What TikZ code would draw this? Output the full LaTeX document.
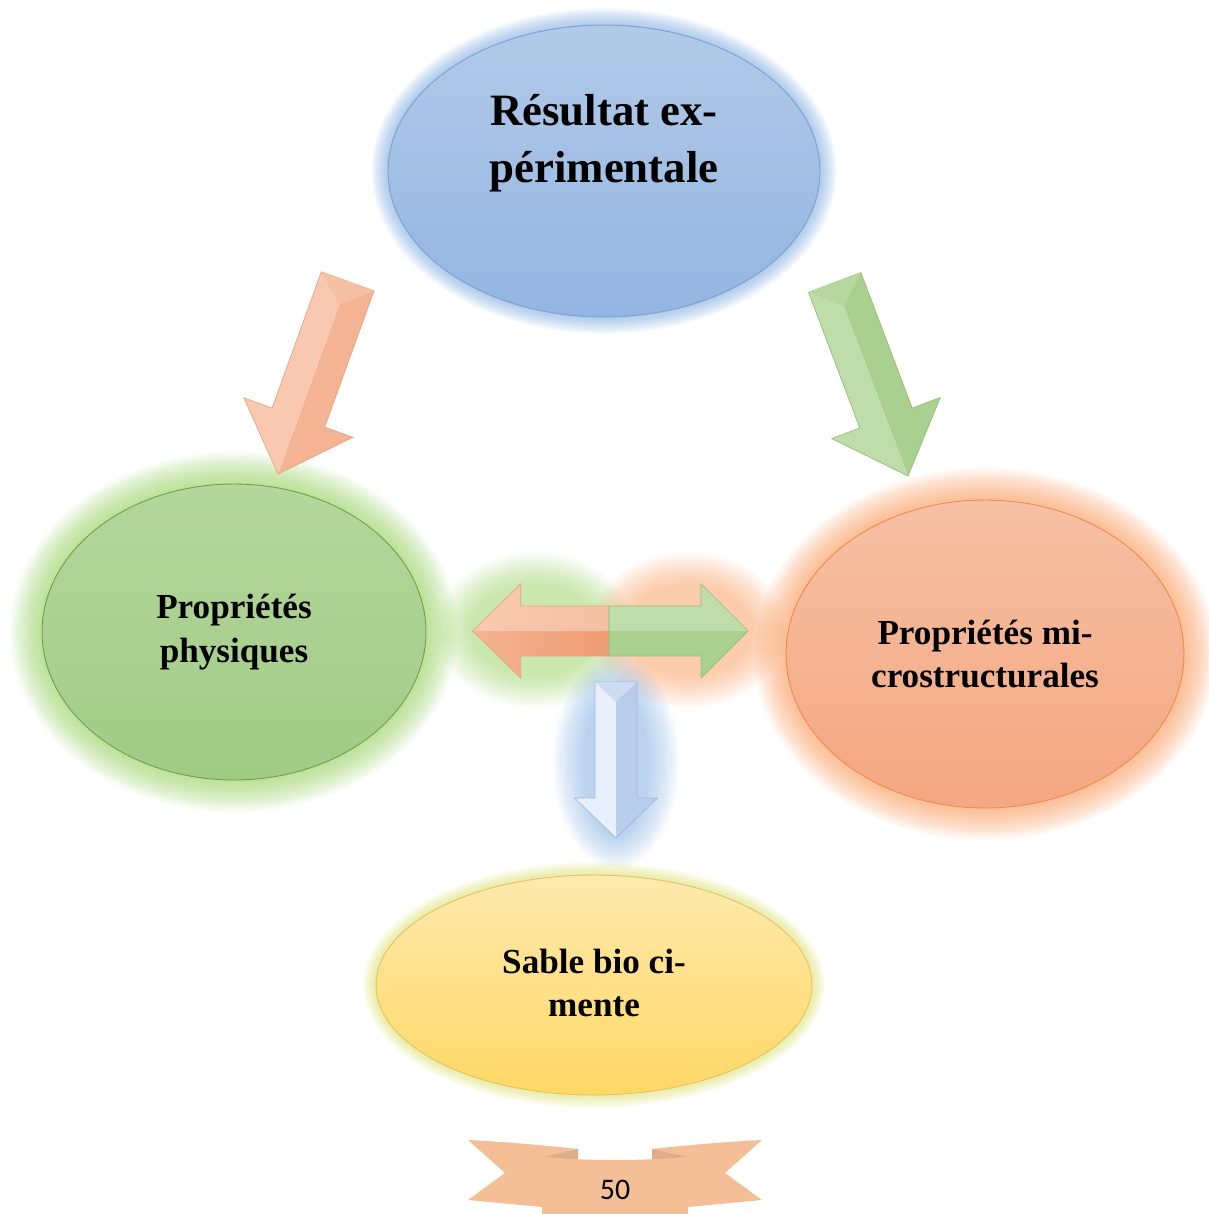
\documentclass[tikz,border=0pt]{standalone}
\usepackage{fontspec}
\setmainfont{Liberation Serif}
\newfontfamily\numfont{Carlito}
\usetikzlibrary{shapes.geometric,calc}
\definecolor{glowBlue}{HTML}{6A9FDB}
\definecolor{glowGreen}{HTML}{8CCB4E}
\definecolor{glowOrange}{HTML}{F7904A}
\definecolor{glowYellow}{HTML}{D5DA55}
\definecolor{blueTop}{HTML}{B2CAE9}
\definecolor{blueBot}{HTML}{93B5E1}
\definecolor{blueRim}{HTML}{7EA5D6}
\definecolor{greenTop}{HTML}{B3D79C}
\definecolor{greenBot}{HTML}{A2CB86}
\definecolor{greenRim}{HTML}{6E9F4C}
\definecolor{orTop}{HTML}{F6C0A4}
\definecolor{orBot}{HTML}{F4A780}
\definecolor{orRim}{HTML}{EC8A4A}
\definecolor{yeTop}{HTML}{FFE9AE}
\definecolor{yeBot}{HTML}{FFD865}
\definecolor{yeRim}{HTML}{E2C35C}
\definecolor{oL}{HTML}{F8C9B0}
\definecolor{oD}{HTML}{F4B494}
\definecolor{oDeep}{HTML}{EF9C70}
\definecolor{oTop}{HTML}{F5C0A4}
\definecolor{oLine}{HTML}{E6A482}
\definecolor{gL}{HTML}{BFDDAA}
\definecolor{gD}{HTML}{A9D08F}
\definecolor{gTop}{HTML}{B6D8A0}
\definecolor{gLine}{HTML}{93BF77}
\definecolor{bL}{HTML}{E6EFFA}
\definecolor{bD}{HTML}{B8CEEC}
\definecolor{bTop}{HTML}{CCDCF1}
\definecolor{bLine}{HTML}{9DB9DF}
\definecolor{ribbon}{HTML}{F4BF97}
\definecolor{ribbonFold}{HTML}{DDAE8E}
% #1 start, #2 tip, #3 shaft half width, #4 head half width, #5 head length,
% #6 style of +90 side, #7 style of -90 side, #8 outline style
\newcommand\blockhalf[8]{%
  \path ($(#2)!#5!(#1)$) coordinate (bb)
        ($(bb)!#3!90:(#2)$) coordinate (bp) ($(bb)!#3!-90:(#2)$) coordinate (bm)
        ($(bb)!#4!90:(#2)$) coordinate (hp) ($(bb)!#4!-90:(#2)$) coordinate (hm)
        ($(#1)!#3!90:(#2)$) coordinate (sp) ($(#1)!#3!-90:(#2)$) coordinate (sm);
  \path[#6] (#1) -- (sp) -- (bp) -- (hp) -- (#2) -- cycle;
  \path[#7] (#1) -- (sm) -- (bm) -- (hm) -- (#2) -- cycle;
  \draw[#8] (sp) -- (bp) -- (hp) -- (#2) -- (hm) -- (bm) -- (sm) -- cycle;
}
\begin{document}
\begin{tikzpicture}[x=0.02cm,y=-0.02cm,
  bubble/.style={ellipse, inner sep=0pt},
  lbl/.style={font=\bfseries\fontsize{20}{25}\selectfont, align=center, text=black},
  toplbl/.style={font=\bfseries\fontsize{25.5}{32.4}\selectfont, align=center, text=black}]
\path[use as bounding box] (0,0) rectangle (1209,1214);
\clip (0,0) rectangle (1209,1214);
% ---------- glows ----------
\foreach \i in {1,...,14}{\fill[glowBlue,opacity=0.05] (604,171) ellipse [x radius={(216+1.2*\i)*0.02cm}, y radius={(146+1.2*\i)*0.02cm}];}
\foreach \i in {1,...,16}{\fill[glowGreen,opacity=0.05] (234,632) ellipse [x radius={(192+2*\i)*0.02cm}, y radius={(148+2*\i)*0.02cm}];}
\foreach \i in {1,...,16}{\fill[glowOrange,opacity=0.05] (985,654) ellipse [x radius={(199+2*\i)*0.02cm}, y radius={(154+2*\i)*0.02cm}];}
\foreach \i in {1,...,12}{\fill[glowYellow,opacity=0.055] (594,985) ellipse [x radius={(218+1.1*\i)*0.02cm}, y radius={(110+1.1*\i)*0.02cm}];}
\foreach \i in {1,...,14}{\fill[glowGreen,opacity=0.045] (535,630) ellipse [x radius={(62+2.6*\i)*0.02cm}, y radius={(44+2.4*\i)*0.02cm}];}
\foreach \i in {1,...,14}{\fill[glowOrange,opacity=0.045] (688,630) ellipse [x radius={(62+2.6*\i)*0.02cm}, y radius={(44+2.4*\i)*0.02cm}];}
\foreach \i in {1,...,14}{\fill[glowBlue,opacity=0.045] (616,762) ellipse [x radius={(30+2.4*\i)*0.02cm}, y radius={(72+2.4*\i)*0.02cm}];}
% ---------- ellipses ----------
\node[bubble, minimum width=8.64cm, minimum height=5.84cm, top color=blueTop, bottom color=blueBot, draw=blueRim, line width=0.6pt] (res) at (604,171) {};
\node[bubble, minimum width=7.68cm, minimum height=5.92cm, top color=greenTop, bottom color=greenBot, draw=greenRim, line width=0.5pt] (phys) at (234,632) {};
\node[bubble, minimum width=7.96cm, minimum height=6.16cm, top color=orTop, bottom color=orBot, draw=orRim, line width=0.5pt] (micro) at (985,654) {};
\node[bubble, minimum width=8.72cm, minimum height=4.4cm, top color=yeTop, bottom color=yeBot, draw=yeRim, line width=0.5pt] (sable) at (594,985) {};
% ---------- texts ----------
\node[toplbl] (resT) at (604,143) {Résultat ex-\\périmentale};
\node[lbl] (physT) at (234,632) {Propriétés\\physiques};
\node[lbl] (microT) at (985,654) {Propriétés mi-\\crostructurales};
\node[lbl] (sableT) at (594,983) {Sable bio ci-\\mente};
% ---------- block arrows ----------
\coordinate (oS) at (347.7,281.3); \coordinate (oT) at (278,474);
\blockhalf{oS}{oT}{0.56cm}{1.16cm}{1.2cm}{fill=oD}{fill=oL}{oLine,line width=0.4pt}
\fill[oTop] (sp) -- (sm) -- ($(oS)!0.5cm!(oT)$) -- cycle;
\coordinate (gS) at (834.7,282.5); \coordinate (gT) at (908,476);
\blockhalf{gS}{gT}{0.56cm}{1.16cm}{1.24cm}{fill=gD}{fill=gL}{gLine,line width=0.4pt}
\fill[gTop] (sp) -- (sm) -- ($(gS)!0.5cm!(gT)$) -- cycle;
\coordinate (dJ) at (609,631); \coordinate (dL) at (472.7,631); \coordinate (dR) at (748,631);
\blockhalf{dJ}{dL}{0.5cm}{0.94cm}{0.96cm}{left color=oD,right color=oDeep}{left color=oL,right color=oTop}{oLine,line width=0.4pt}
\blockhalf{dJ}{dR}{0.5cm}{0.94cm}{0.94cm}{fill=gL}{fill=gD}{gLine,line width=0.4pt}
\coordinate (bS) at (616,681.7); \coordinate (bT) at (616,838);
\blockhalf{bS}{bT}{0.42cm}{0.83cm}{0.8cm}{fill=bD}{fill=bL}{bLine,line width=0.4pt}
\fill[bTop] (sp) -- (sm) -- ($(bS)!0.4cm!(bT)$) -- cycle;
% ---------- page ribbon ----------
\fill[ribbon] (468,1140) .. controls (510,1142) and (550,1146) .. (578,1149) -- (578,1209) -- (542,1207) -- (468,1200) -- (505,1173) -- cycle;
\fill[ribbon] (762,1140) .. controls (720,1142) and (680,1146) .. (652,1149) -- (652,1209) -- (688,1207) -- (762,1200) -- (725,1173) -- cycle;
\fill[ribbonFold] (543,1157) -- (578,1149) -- (578,1160) -- cycle;
\fill[ribbonFold] (687,1157) -- (652,1149) -- (652,1160) -- cycle;
\fill[ribbon] (542,1157) .. controls (590,1161) and (640,1161) .. (688,1157) -- (688,1220) -- (542,1220) -- cycle;
\node[font=\numfont\fontsize{17}{20}\selectfont, text=black] (pg) at (615,1190) {50};
\end{tikzpicture}
\end{document}
